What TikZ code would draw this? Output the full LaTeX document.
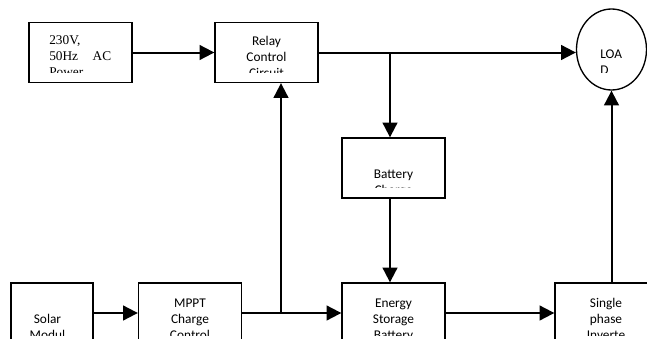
\documentclass[tikz,border=0pt]{standalone}
\usepackage{fontspec}
\setmainfont{Carlito}
\newfontfamily\timesfont{Liberation Serif}
\usetikzlibrary{arrows.meta,shapes.geometric}

\begin{document}
\begin{tikzpicture}[x=0.75pt,y=-0.75pt,
    block/.style={draw,line width=1pt,minimum width=77.25pt,minimum height=45pt,inner sep=0pt},
    blocktext/.style={font=\fontsize{10}{12}\selectfont,text width=60pt,align=center,inner sep=0pt,anchor=base},
    flow/.style={line width=1.5pt,-{Triangle[length=11pt,width=11pt]}}]
  \useasboundingbox (0,0) rectangle (647,339);
  \clip (0,0) rectangle (647,339);
  \node[block] (acpower) at (80.5,52.5) {};
  \node[block] (relay) at (266.5,52.5) {};
  \node[ellipse,draw,line width=1pt,minimum width=52.5pt,minimum height=60.75pt,inner sep=0pt] (load) at (611.5,49.5) {};
  \node[block] (charger) at (393.5,168) {};
  \node[block,minimum width=61.5pt] (solar) at (52,313) {};
  \node[block] (mppt) at (190,313) {};
  \node[block] (energy) at (393.5,313) {};
  \node[block] (inverter) at (606.5,313) {};
  \begin{scope}
    \clip (29,22) rectangle (132,72);
    \node[blocktext,font=\timesfont\fontsize{10}{12}\selectfont,text width=46.5pt,align=left,anchor=base west]
      (actext) at (49,44.5) {230V,\\50Hz\hfill AC\\Power};
  \end{scope}
  \begin{scope}
    \clip (215,22) rectangle (318,72);
    \node[blocktext] (relaytext) at (266.5,45.3) {Relay\\Control\\Circuit};
  \end{scope}
  \begin{scope}
    \clip (575,9) rectangle (647,72);
    \node[blocktext,text width=25pt,align=left,anchor=base west] (loadtext) at (600,58.3) {LOA\\D};
  \end{scope}
  \begin{scope}
    \clip (342,138) rectangle (445,187.5);
    \node[blocktext] (chargertext) at (393.5,178.3) {Battery\\Charge};
  \end{scope}
  \begin{scope}
    \clip (0,283) rectangle (647,335);
    \node[blocktext] (solartext) at (47.5,323.3) {Solar\\Modul};
    \node[blocktext] (mppttext) at (190,307.3) {MPPT\\Charge\\Control};
    \node[blocktext] (energytext) at (393.5,307.3) {Energy\\Storage\\Battery};
    \node[blocktext] (invertertext) at (606,307.3) {Single\\phase\\Inverte};
  \end{scope}
  \coordinate (split) at (390,52.5);
  \coordinate (tap) at (281,313);
  \draw[flow] (acpower) -- (relay);
  \draw[flow] (relay.east) -- (split -| load.west);
  \draw[flow] (split) -- (split |- charger.north);
  \draw[flow] (charger.south -| split) -- (energy.north -| split);
  \draw[flow] (solar) -- (mppt);
  \draw[flow] (mppt) -- (energy);
  \draw[flow] (tap) -- (tap |- relay.south);
  \draw[flow] (energy) -- (inverter);
  \draw[flow] (inverter.north -| load.south) -- (load.south);
\end{tikzpicture}
\end{document}
